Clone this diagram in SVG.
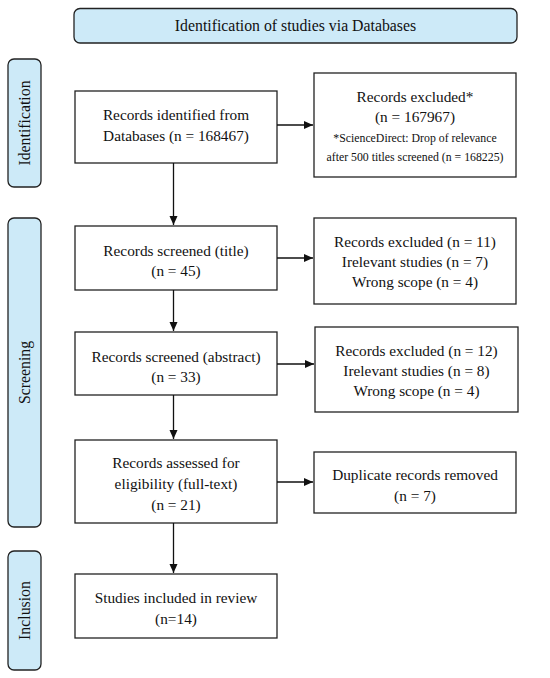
<svg xmlns="http://www.w3.org/2000/svg" width="550" height="678" viewBox="0 0 550 678">
<defs>
<marker id="ah" markerWidth="10" markerHeight="10" refX="9" refY="5" orient="auto" markerUnits="userSpaceOnUse">
<path d="M0,1 L9,5 L0,9 Z" fill="#111"/>
</marker>
<style>
.box{fill:#fff;stroke:#222;stroke-width:1.3}
.lab{fill:#cdeaf8;stroke:#222;stroke-width:1.3}
.t{font-family:"Liberation Serif","DejaVu Serif",serif;font-size:15.3px;fill:#111;text-anchor:middle}
.v{font-family:"Liberation Serif","DejaVu Serif",serif;font-size:15.8px;fill:#111;text-anchor:middle}
.s{font-family:"Liberation Serif","DejaVu Serif",serif;font-size:11.8px;fill:#111;text-anchor:middle}
.c{stroke:#111;stroke-width:1.3;fill:none}
</style>
</defs>
<rect width="550" height="678" fill="#fff"/>
<g id="header">
<rect class="lab" x="74" y="8.5" width="443" height="34.5" rx="6"/>
<text class="v" x="295.5" y="31">Identification of studies via Databases</text>
</g>
<g id="label-identification">
<rect class="lab" x="8" y="59" width="33" height="128" rx="6"/>
<text class="v" transform="translate(30,123) rotate(-90)">Identification</text>
</g>
<g id="label-screening">
<rect class="lab" x="8" y="218" width="33" height="309" rx="6"/>
<text class="v" transform="translate(30,372.5) rotate(-90)">Screening</text>
</g>
<g id="label-inclusion">
<rect class="lab" x="8" y="551" width="33" height="119" rx="6"/>
<text class="v" transform="translate(30,610.5) rotate(-90)">Inclusion</text>
</g>
<g id="identified">
<rect class="box" x="75" y="91" width="202" height="72"/>
<text class="t" x="176" y="119.5">Records identified from</text>
<text class="t" x="176" y="140.5">Databases (n = 168467)</text>
</g>
<g id="excluded1">
<rect class="box" x="314" y="73" width="202" height="104"/>
<text class="t" x="415" y="102">Records excluded*</text>
<text class="t" x="415" y="122">(n = 167967)</text>
<text class="s" x="415" y="141.5">*ScienceDirect: Drop of relevance</text>
<text class="s" x="415" y="161">after 500 titles screened (n = 168225)</text>
</g>
<g id="screened-title">
<rect class="box" x="75" y="226" width="202" height="64"/>
<text class="t" x="176" y="255.5">Records screened (title)</text>
<text class="t" x="176" y="275.5">(n = 45)</text>
</g>
<g id="excluded2">
<rect class="box" x="314" y="218" width="202" height="86"/>
<text class="t" x="415" y="246.5">Records excluded (n = 11)</text>
<text class="t" x="415" y="266.5">Irelevant studies (n = 7)</text>
<text class="t" x="415" y="286.5">Wrong scope (n = 4)</text>
</g>
<g id="screened-abstract">
<rect class="box" x="75" y="332" width="202" height="63"/>
<text class="t" x="176" y="361.5">Records screened (abstract)</text>
<text class="t" x="176" y="381.5">(n = 33)</text>
</g>
<g id="excluded3">
<rect class="box" x="315" y="327" width="203" height="85"/>
<text class="t" x="416.5" y="355.5">Records excluded (n = 12)</text>
<text class="t" x="416.5" y="375.5">Irelevant studies (n = 8)</text>
<text class="t" x="416.5" y="395.5">Wrong scope (n = 4)</text>
</g>
<g id="eligibility">
<rect class="box" x="75" y="440" width="202" height="83"/>
<text class="t" x="176" y="467.5">Records assessed for</text>
<text class="t" x="176" y="488.5">eligibility (full-text)</text>
<text class="t" x="176" y="509.5">(n = 21)</text>
</g>
<g id="duplicates">
<rect class="box" x="314" y="452" width="202" height="61"/>
<text class="t" x="415" y="479.5">Duplicate records removed</text>
<text class="t" x="415" y="500.5">(n = 7)</text>
</g>
<g id="included">
<rect class="box" x="75" y="574" width="202" height="64"/>
<text class="t" x="176" y="602.5">Studies included in review</text>
<text class="t" x="176" y="623.5">(n=14)</text>
</g>
<g id="connectors">
<line class="c" x1="277" y1="125" x2="313" y2="125" marker-end="url(#ah)"/>
<line class="c" x1="173.5" y1="163" x2="173.5" y2="225" marker-end="url(#ah)"/>
<line class="c" x1="277" y1="258" x2="313" y2="258" marker-end="url(#ah)"/>
<line class="c" x1="173.5" y1="290" x2="173.5" y2="331" marker-end="url(#ah)"/>
<line class="c" x1="277" y1="364" x2="314" y2="364" marker-end="url(#ah)"/>
<line class="c" x1="173.5" y1="395" x2="173.5" y2="439" marker-end="url(#ah)"/>
<line class="c" x1="277" y1="482" x2="313" y2="482" marker-end="url(#ah)"/>
<line class="c" x1="173.5" y1="523" x2="173.5" y2="573" marker-end="url(#ah)"/>
</g>
</svg>
